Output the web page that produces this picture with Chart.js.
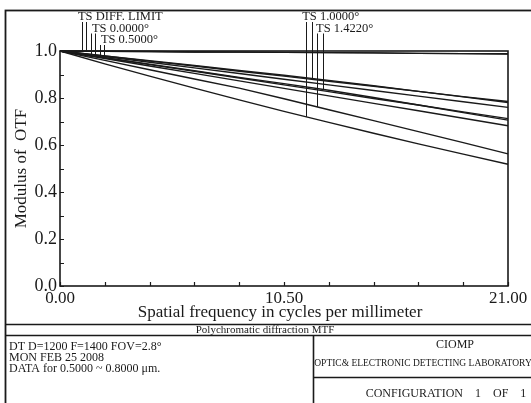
<!DOCTYPE html>
<html>
<head>
<meta charset="utf-8">
<script src="https://cdn.jsdelivr.net/npm/chart.js@4.4.1/dist/chart.umd.min.js"></script>
<style>
html, body { margin: 0; padding: 0; background: #fff; }
#wrap { width: 531px; height: 403px; position: relative; }
</style>
</head>
<body>
<div id="wrap"><canvas id="mtfChart" width="531" height="403"></canvas></div>
<script>
// spatial frequency samples (cycles/mm)
var freqs = [0, 2.1, 4.2, 6.3, 8.4, 10.5, 12.6, 14.7, 16.8, 18.9, 21];

// MTF values, T and S for each field
var diffT = [1, 0.999, 0.998, 0.996, 0.995, 0.994, 0.993, 0.992, 0.990, 0.989, 0.988];
var diffS = [1, 0.999, 0.998, 0.996, 0.995, 0.994, 0.993, 0.992, 0.990, 0.989, 0.987];
var f00T = [1, 0.979, 0.957, 0.936, 0.914, 0.893, 0.871, 0.850, 0.828, 0.806, 0.785];
var f00S = [1, 0.976, 0.952, 0.928, 0.904, 0.880, 0.856, 0.832, 0.808, 0.784, 0.760];
var f05T = [1, 0.971, 0.942, 0.914, 0.885, 0.856, 0.827, 0.798, 0.770, 0.741, 0.712];
var f05S = [1, 0.968, 0.936, 0.905, 0.873, 0.841, 0.809, 0.777, 0.746, 0.714, 0.682];
var f10T = [1, 0.945, 0.893, 0.842, 0.792, 0.743, 0.696, 0.650, 0.605, 0.561, 0.518];
var f10S = [1, 0.979, 0.959, 0.938, 0.917, 0.897, 0.875, 0.852, 0.828, 0.805, 0.781];
var f14T = [1, 0.960, 0.920, 0.881, 0.842, 0.797, 0.750, 0.704, 0.657, 0.610, 0.562];
var f14S = [1, 0.972, 0.944, 0.916, 0.888, 0.861, 0.833, 0.802, 0.770, 0.738, 0.706];

var fieldNames = ["TS DIFF. LIMIT", "TS 0.0000\u00b0", "TS 0.5000\u00b0", "TS 1.0000\u00b0", "TS 1.4220\u00b0"];
var fieldSeries = [[diffT, diffS], [f00T, f00S], [f05T, f05S], [f10T, f10S], [f14T, f14S]];
// where the label leader lines touch the curves (cycles/mm)
var markerFreqs = [[1.03, 1.24], [1.45, 1.66], [1.87, 2.08], [11.54, 11.80], [12.05, 12.31]];
var labelRows = [0, 1, 2, 0, 1];
var labelShift = [-4, 1, 1, -4, -1];

var xTickLabels = [0, 10.5, 21];
var yTickLabels = [0, 0.2, 0.4, 0.6, 0.8, 1.0];

var serifFont = '"Liberation Serif", "Times New Roman", serif';
var ink = '#1a1a1a';

function valueAt(series, f) {
    for (var i = 1; i < freqs.length; i++) {
        if (f <= freqs[i]) {
            var t = (f - freqs[i - 1]) / (freqs[i] - freqs[i - 1]);
            return series[i - 1] + t * (series[i] - series[i - 1]);
        }
    }
    return series[series.length - 1];
}

var datasets = [];
fieldSeries.forEach(function (pair, k) {
    pair.forEach(function (s, j) {
        datasets.push({
            label: fieldNames[k] + (j == 0 ? " T" : " S"),
            data: freqs.map(function (f, i) { return { x: f, y: s[i] }; }),
            borderColor: ink,
            borderWidth: 1.4,
            pointRadius: 0,
            tension: 0,
            fill: false,
            clip: false
        });
    });
});

/* frame, inward ticks, field labels and the title block */
var mtfDecor = {
    id: 'mtfDecor',
    afterDraw: function (chart) {
        var ctx = chart.ctx;
        var xs = chart.scales.x, ys = chart.scales.y;
        var a = chart.chartArea;
        ctx.save();
        ctx.strokeStyle = ink;
        ctx.fillStyle = ink;

        // plot box
        ctx.lineWidth = 1.6;
        ctx.strokeRect(a.left, a.top, a.right - a.left, a.bottom - a.top);

        // inward ticks
        ctx.lineWidth = 1.2;
        ctx.beginPath();
        xs.ticks.forEach(function (t) {
            var px = Math.round(xs.getPixelForValue(t.value)) + 0.5;
            ctx.moveTo(px, a.bottom);
            ctx.lineTo(px, a.bottom - 4);
        });
        ys.ticks.forEach(function (t) {
            var py = Math.round(ys.getPixelForValue(t.value)) + 0.5;
            ctx.moveTo(a.left, py);
            ctx.lineTo(a.left + 4, py);
        });
        ctx.stroke();

        // field labels with leader lines
        ctx.font = '12.5px ' + serifFont;
        ctx.textBaseline = 'alphabetic';
        ctx.textAlign = 'left';
        ctx.lineWidth = 1;
        fieldNames.forEach(function (name, k) {
            var rowBase = 20 + labelRows[k] * 11.5;
            var firstPx = xs.getPixelForValue(markerFreqs[k][0]);
            ctx.fillText(name, firstPx + labelShift[k], rowBase);
            ctx.beginPath();
            markerFreqs[k].forEach(function (f, j) {
                var px = Math.round(xs.getPixelForValue(f)) + 0.5;
                var py = ys.getPixelForValue(valueAt(fieldSeries[k][j], f));
                ctx.moveTo(px, rowBase + 2);
                ctx.lineTo(px, py);
            });
            ctx.stroke();
        });

        // axis titles
        ctx.font = '17px ' + serifFont;
        ctx.textAlign = 'center';
        ctx.textBaseline = 'middle';
        ctx.fillText('Spatial frequency in cycles per millimeter', (a.left + a.right) / 2 - 4, 313);
        ctx.save();
        ctx.translate(22, (a.top + a.bottom) / 2);
        ctx.rotate(-Math.PI / 2);
        ctx.fillText('Modulus of  OTF', 0, 0);
        ctx.restore();

        // outer border and title block
        ctx.lineWidth = 1.8;
        ctx.strokeRect(5.5, 10.5, 560, 420);
        ctx.lineWidth = 1.6;
        ctx.beginPath();
        ctx.moveTo(5, 324.5); ctx.lineTo(531, 324.5);
        ctx.moveTo(5, 335.5); ctx.lineTo(531, 335.5);
        ctx.moveTo(313.5, 335); ctx.lineTo(313.5, 403);
        ctx.moveTo(313, 377.5); ctx.lineTo(531, 377.5);
        ctx.stroke();

        ctx.font = '11px ' + serifFont;
        ctx.fillText('Polychromatic diffraction MTF', 265, 330);

        ctx.textAlign = 'left';
        ctx.font = '12px ' + serifFont;
        ctx.fillText('DT D=1200 F=1400 FOV=2.8\u00b0', 9, 347);
        ctx.fillText('MON FEB 25 2008', 9, 358);
        ctx.fillText('DATA for 0.5000 ~ 0.8000 \u03bcm.', 9, 369);

        ctx.textAlign = 'center';
        ctx.fillText('CIOMP', 455, 345);
        ctx.font = '9.5px ' + serifFont;
        ctx.fillText('OPTIC& ELECTRONIC DETECTING LABORATORY', 423, 363);
        ctx.font = '12px ' + serifFont;
        ctx.fillText('CONFIGURATION    1    OF    1', 446, 394);
        ctx.restore();
    }
};

var myChart = new Chart(document.getElementById('mtfChart'), {
    type: 'line',
    data: { datasets: datasets },
    options: {
        responsive: false,
        animation: false,
        devicePixelRatio: 1,
        layout: { padding: { top: 51, right: 23, left: 0, bottom: 0 } },
        plugins: {
            legend: { display: false },
            tooltip: { enabled: false }
        },
        scales: {
            x: {
                type: 'linear',
                min: 0,
                max: 21,
                grid: { display: false, drawTicks: false },
                border: { display: false },
                ticks: {
                    stepSize: 2.1,
                    autoSkip: false,
                    maxRotation: 0,
                    padding: 2,
                    color: ink,
                    font: { family: serifFont, size: 17 },
                    callback: function (v) {
                        for (var i = 0; i < xTickLabels.length; i++) {
                            if (Math.abs(v - xTickLabels[i]) < 1e-6) return xTickLabels[i].toFixed(2);
                        }
                        return '';
                    }
                },
                afterFit: function (s) {
                    s.height = 403 - 286;
                    s.paddingLeft = 0;
                    s.paddingRight = 0;
                }
            },
            y: {
                min: 0,
                max: 1,
                grid: { display: false, drawTicks: false },
                border: { display: false },
                ticks: {
                    stepSize: 0.1,
                    autoSkip: false,
                    padding: 3,
                    color: ink,
                    font: { family: serifFont, size: 18 },
                    callback: function (v) {
                        for (var i = 0; i < yTickLabels.length; i++) {
                            if (Math.abs(v - yTickLabels[i]) < 1e-6) return yTickLabels[i].toFixed(1);
                        }
                        return '';
                    }
                },
                afterFit: function (s) {
                    s.width = 60;
                    s.paddingTop = 0;
                    s.paddingBottom = 0;
                }
            }
        }
    },
    plugins: [mtfDecor]
});
</script>
</body>
</html>
